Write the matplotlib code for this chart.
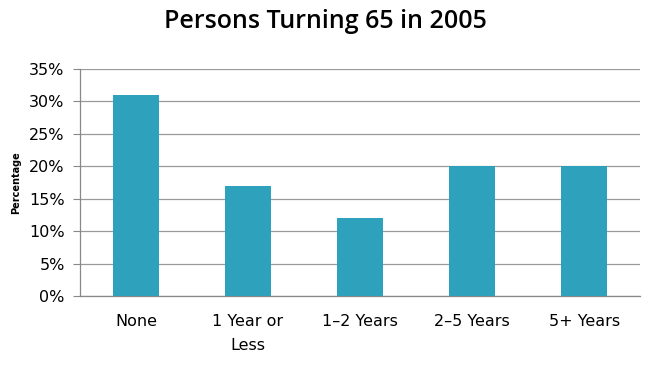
import matplotlib
matplotlib.use('Agg')
import matplotlib.pyplot as plt
from matplotlib.ticker import FuncFormatter

categories = ['None', '1 Year or\nLess', '1\u20132 Years', '2\u20135 Years', '5+ Years']
values = [31, 17, 12, 20, 20]
yticks = [0, 5, 10, 15, 20, 25, 30, 35]

plt.rcParams['font.family'] = ['DejaVu Sans']

fig = plt.figure(figsize=(6.5, 3.65), dpi=100)
ax = fig.add_axes([0.123, 0.189, 0.862, 0.622])

x = list(range(len(categories)))
ax.bar(x, values, width=0.41, color='#2ea2bd', zorder=3)

ax.set_xlim(-0.5, len(categories) - 0.5)
ax.set_ylim(0, 35)
ax.set_yticks(yticks)
ax.yaxis.set_major_formatter(FuncFormatter(lambda v, p: '{:d}%'.format(int(v))))
ax.set_xticks(x)
ax.set_xticklabels(categories, fontsize=11.5, linespacing=1.75)
ax.tick_params(axis='y', labelsize=11.5, length=5, color='#888888', pad=6)
ax.tick_params(axis='x', length=0, pad=13)

ax.grid(axis='y', color='#999999', linewidth=0.9, zorder=0)
for s in ['top', 'right']:
    ax.spines[s].set_visible(False)
for s in ['left', 'bottom']:
    ax.spines[s].set_color('#888888')
    ax.spines[s].set_linewidth(0.9)

ax.set_ylabel('Percentage', fontsize=7, fontweight='bold', labelpad=6)
fig.suptitle('Persons Turning 65 in 2005', fontsize=18, fontweight='semibold',
             family=['Open Sans', 'DejaVu Sans'], y=0.975)

fig.savefig('out.png', dpi=100)
